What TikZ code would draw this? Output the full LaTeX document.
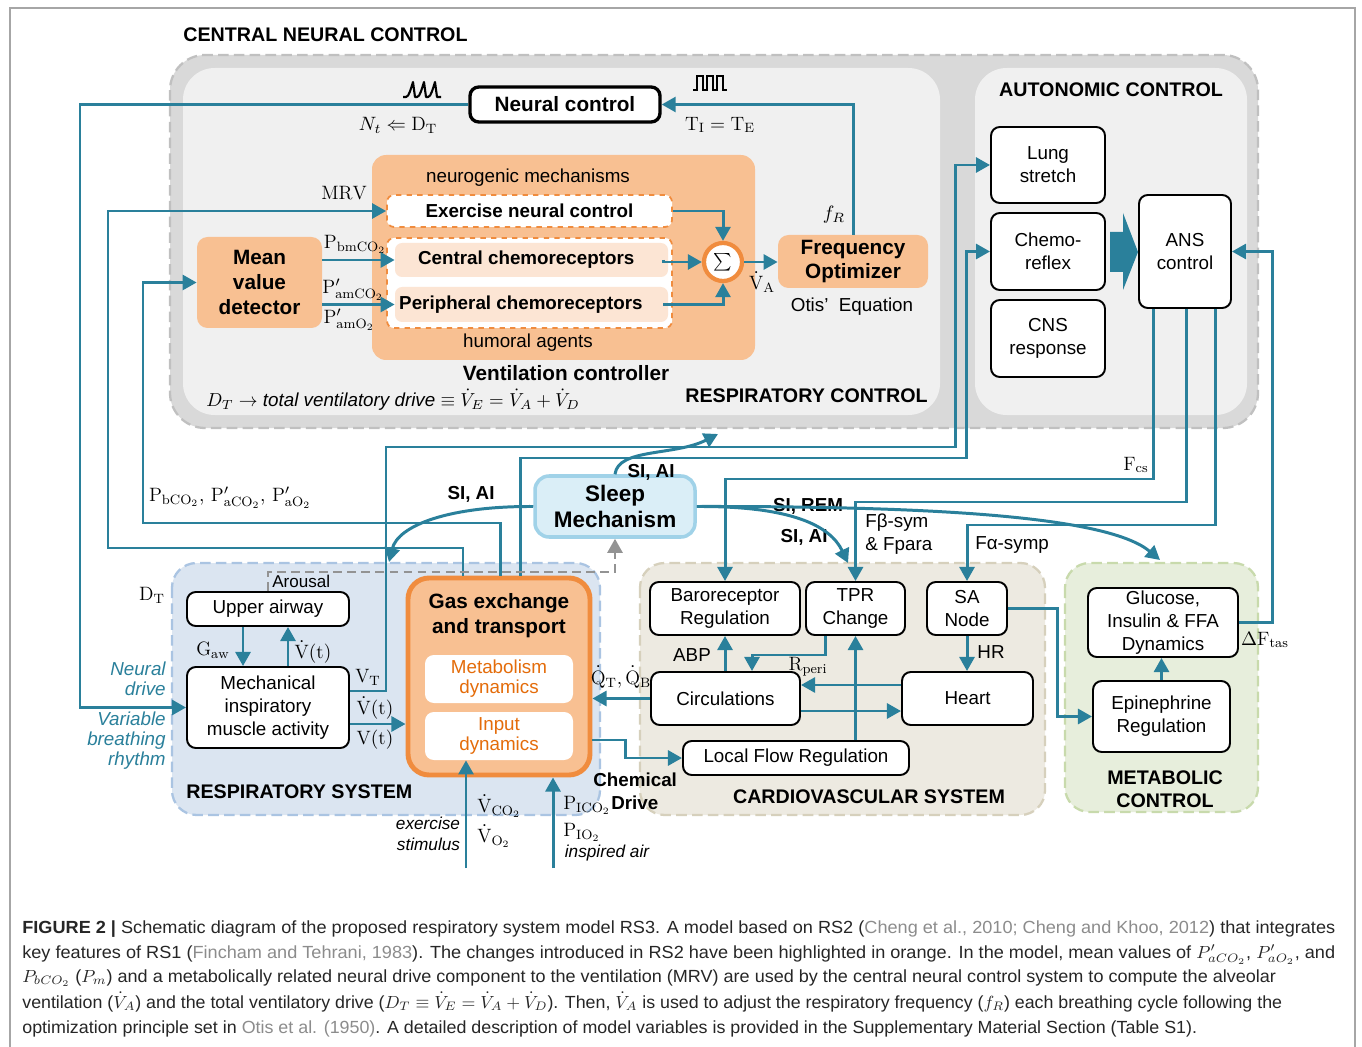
\RequirePackage{fix-cm}
\documentclass[tikz,border=0pt]{standalone}
\usepackage{fontspec}
\newfontfamily\arialf{Liberation Sans}
\usetikzlibrary{arrows.meta,calc}
\definecolor{tealc}{RGB}{42,128,155}
\definecolor{orf}{RGB}{248,192,146}
\definecolor{orb}{RGB}{240,140,62}
\definecolor{orlight}{RGB}{252,229,212}
\definecolor{ortext}{RGB}{228,108,10}
\definecolor{grayout}{RGB}{217,217,217}
\definecolor{graydash}{RGB}{192,192,192}
\definecolor{graypanel}{RGB}{240,240,240}
\definecolor{resf}{RGB}{219,229,241}
\definecolor{resb}{RGB}{170,196,226}
\definecolor{cvf}{RGB}{237,234,225}
\definecolor{cvb}{RGB}{214,208,188}
\definecolor{mcf}{RGB}{231,238,220}
\definecolor{mcb}{RGB}{200,218,172}
\definecolor{slf}{RGB}{218,238,247}
\definecolor{slb}{RGB}{160,210,232}
\definecolor{citec}{RGB}{140,140,140}
\newcommand\fReg{\arialf\fontsize{10.7}{13}\selectfont}
\newcommand\fBs{\arialf\bfseries\fontsize{10.7}{13}\selectfont}
\newcommand\fBig{\arialf\bfseries\fontsize{11.8}{14.2}\selectfont}
\newcommand\fSleep{\arialf\bfseries\fontsize{12.8}{14.8}\selectfont}
\newcommand\fHead{\arialf\bfseries\fontsize{11.2}{13}\selectfont}
\newcommand\fMath{\fontsize{11}{13}\selectfont}
\newcommand\fIt{\arialf\itshape\fontsize{10.7}{11.4}\selectfont}
\newcommand\fSm{\arialf\itshape\fontsize{9.8}{11.9}\selectfont}
\newcommand\fCap{\arialf\fontsize{10}{12}\selectfont}
\tikzset{
  sz/.style 2 args={minimum width={#1*0.02cm}, minimum height={#2*0.02cm}},
  wbox/.style={draw=black, line width=1.1pt, rounded corners=5pt, fill=white, inner sep=0pt, align=center, font=\fReg},
  obox/.style={fill=orf, rounded corners=6pt, inner sep=0pt, align=center, font=\fBig},
  conn/.style={draw=tealc, line width=1.7pt, -{Triangle[length=8pt,width=8.5pt]}},
  lab/.style={inner sep=0pt, font=\fReg},
  mlab/.style={inner sep=0pt, font=\fMath},
  blab/.style={inner sep=0pt, font=\fBs},
  head/.style={inner sep=0pt, font=\fHead},
  region/.style={dash pattern=on 6pt off 3pt, line width=1.3pt, rounded corners=14pt},
  capl/.style={anchor=base west, inner sep=0pt, font=\fCap, text=black!85},
}
\begin{document}
\begin{tikzpicture}[x=0.02cm,y=-0.02cm]
\useasboundingbox (0,0) rectangle (1362,1047);
\fill[white] (0,0) rectangle (1362,1047);
\draw[gray!70, line width=0.8pt] (10,1047) -- (10,8) -- (1355,8) -- (1355,1047);

% ---------- containers ----------
\draw[region, draw=graydash, fill=grayout, rounded corners=20pt] (170,55) rectangle (1258,428);
\fill[graypanel, rounded corners=18pt] (183,68) rectangle (940,415);
\fill[graypanel, rounded corners=18pt] (975,68) rectangle (1247,415);
\draw[region, draw=resb, fill=resf] (172,563) rectangle (600,815);
\draw[region, draw=cvb, fill=cvf] (640,563) rectangle (1045,815);
\draw[region, draw=mcb, fill=mcf] (1065,563) rectangle (1258,812);

% ---------- coordinates ----------
\coordinate (xN) at (80,0);
\coordinate (xA) at (463,0);
\coordinate (xB) at (500,0);
\coordinate (xC) at (520,0);
\coordinate (x1) at (1153,0);
\coordinate (x2) at (1186,0);
\coordinate (x3) at (1215,0);
\coordinate (yF1) at (0,479);
\coordinate (yF2) at (0,502);
\coordinate (yF3) at (0,525);
\coordinate (yVT) at (0,691);
\coordinate (yVd) at (0,724);
\coordinate (xg) at (243,0);
\coordinate (xv) at (288,0);
\coordinate (xt1) at (825,0);
\coordinate (xt2) at (752,0);
\coordinate (yh1) at (0,685);
\coordinate (yh2) at (0,711);
\coordinate (yg) at (0,740);
\coordinate (ya) at (0,572);
\coordinate (xo) at (663,0);
\coordinate (ex0) at (466,868);
\coordinate (in0) at (553,868);

% ---------- respiratory control ----------
\node[head, anchor=west] (tcnc) at (183,35) {CENTRAL NEURAL CONTROL};
\node[wbox, line width=1.9pt, font=\fBig, sz={190}{35}] (neural) at (565,104.5) {Neural control};
\node[fill=orf, rounded corners=8pt, inner sep=0pt, sz={383}{205}] (vent) at (563.5,257.5) {};
\node[lab] (tneuro) at (528,178) {neurogenic mechanisms};
\node[lab] (thum) at (528,343) {humoral agents};
\node[fill=white, draw=orb, dashed, line width=1pt, rounded corners=4pt, inner sep=0pt, font=\fBs, sz={285}{32}] (exer) at (529.5,211) {Exercise neural control};
\node[fill=white, draw=orb, dashed, line width=1pt, rounded corners=4pt, inner sep=0pt, sz={285}{90}] (chcont) at (529.5,283) {};
\node[fill=orlight, rounded corners=4pt, inner sep=0pt, font=\fBs, sz={273}{34}] (central) at (531.5,260) {Central chemoreceptors\hspace*{6pt}};
\node[fill=orlight, rounded corners=4pt, inner sep=0pt, font=\fBs, sz={273}{35}] (periph) at (531.5,304.5) {Peripheral chemoreceptors\hspace*{12pt}};
\node[circle, draw=orb, line width=2.4pt, fill=white, minimum size=0.76cm, inner sep=0pt, font=\fontsize{14}{14}\selectfont] (sum) at (723,262) {$\sum$};
\node[obox, sz={150}{53}] (freq) at (853,261.5) {Frequency\\Optimizer};
\node[obox, sz={125}{91}] (mean) at (259.5,282.5) {Mean\\value\\detector};
\node[lab] (totis) at (852,307) {Otis’\ \ Equation};
\node[font=\fBig, inner sep=0pt] (tvc) at (566,373) {Ventilation controller};
\node[lab, anchor=west] (tdrive) at (206,400) {$D_T\rightarrow$ \textit{total ventilatory drive} $\equiv \dot V_E = \dot V_A+\dot V_D$};
\node[head, anchor=east] (trc) at (928,396) {RESPIRATORY CONTROL};

% waveforms
\draw[line width=1.2pt, line join=round] (403,97) -- (406,97) .. controls (409,97) and (411,88) .. (413,82) -- (415,97) -- (417,97) .. controls (420,97) and (422,88) .. (424,82) -- (426,97) -- (428,97) .. controls (431,97) and (433,88) .. (435,82) -- (437,97) -- (441,97);
\draw[line width=1.2pt] (693,90) -- (697,90) -- (697,76) -- (703,76) -- (703,90) -- (707,90) -- (707,76) -- (713,76) -- (713,90) -- (717,90) -- (717,76) -- (723,76) -- (723,90) -- (727,90);

\node[mlab] (lnt) at (398,125) {$N_t \Leftarrow \mathrm{D_T}$};
\node[mlab] (lti) at (720,125) {$\mathrm{T_I = T_E}$};
\node[mlab] (lfr) at (834,215) {$f_R$};
\node[mlab] (lva) at (762,282) {$\dot{\mathrm V}_{\mathrm A}$};
\node[mlab] (lmrv) at (344,193) {$\mathrm{MRV}$};
\node[mlab] (lpbm) at (355,244) {$\mathrm{P_{bmCO_2}}$};
\node[mlab] (lpam) at (353,290) {$\mathrm{P'_{amCO_2}}$};
\node[mlab] (lpao) at (349,320) {$\mathrm{P'_{amO_2}}$};

% ---------- autonomic control ----------
\node[head] (tauto) at (1111,90) {AUTONOMIC CONTROL};
\node[wbox, sz={114}{76}] (lung) at (1048,165) {Lung\\stretch};
\node[wbox, sz={114}{77}] (chemo) at (1048,251.5) {Chemo-\\reflex};
\node[wbox, sz={114}{77}] (cns) at (1048,338.5) {CNS\\response};
\node[wbox, sz={92}{113}] (ans) at (1185,251.5) {ANS\\control};
\fill[tealc] (1110,232) -- (1123,232) -- (1123,213) -- (1138,252) -- (1123,290) -- (1123,272) -- (1110,272) -- cycle;

% ---------- respiratory system ----------
\node[wbox, sz={162}{34}] (upper) at (268,609) {Upper airway};
\node[wbox, sz={162}{81}] (mech) at (268,707.5) {Mechanical\\inspiratory\\muscle activity};
\node[fill=orf, draw=orb, line width=2.8pt, rounded corners=12pt, inner sep=0pt, sz={182}{197}] (gas) at (499,676.5) {};
\node[font=\fBig, align=center, inner sep=0pt] (gastitle) at (499,616) {Gas exchange\\and transport};
\node[fill=white, rounded corners=5pt, inner sep=0pt, align=center, text=ortext, font=\arialf\fontsize{10.7}{11.3}\selectfont, sz={148}{48}] (metab) at (499,679) {Metabolism\\dynamics};
\node[fill=white, rounded corners=5pt, inner sep=0pt, align=center, text=ortext, font=\arialf\fontsize{10.7}{11.3}\selectfont, sz={148}{48}] (input) at (499,736) {Input\\dynamics};
\node[head, anchor=west] (trs) at (186,792) {RESPIRATORY SYSTEM};
\node[inner sep=0pt, font=\arialf\fontsize{9.7}{11}\selectfont, anchor=west] (tarous) at (272,581) {Arousal};
\node[font=\fIt, text=tealc, align=right, anchor=east, inner sep=0pt] (tnd) at (166,679) {Neural\\drive};
\node[font=\fIt, text=tealc, align=right, anchor=east, inner sep=0pt] (tvb) at (166,741) {Variable\\breathing\\rhythm};
\node[mlab] (ldt) at (152,595) {$\mathrm{D_T}$};
\node[mlab] (lgaw) at (213,650) {$\mathrm{G_{aw}}$};
\node[mlab] (lvt1) at (313,652) {$\dot{\mathrm V}(\mathrm t)$};
\node[mlab] (lvT) at (368,677) {$\mathrm{V_T}$};
\node[mlab] (lvt2) at (375,708) {$\dot{\mathrm V}(\mathrm t)$};
\node[mlab] (lvt3) at (375,740) {$\mathrm V(\mathrm t)$};
\node[mlab] (lqt) at (621,677) {$\dot{\mathrm Q}_{\mathrm T}, \dot{\mathrm Q}_{\mathrm B}$};
\node[mlab, anchor=west] (lvco) at (477,806) {$\dot{\mathrm V}_{\mathrm{CO_2}}$};
\node[mlab, anchor=west] (lvo) at (477,836) {$\dot{\mathrm V}_{\mathrm{O_2}}$};
\node[font=\fSm, align=right, inner sep=0pt] (texs) at (428,834) {exercise\\stimulus};
\node[mlab, anchor=west] (lpico) at (563,805) {$\mathrm{P_{ICO_2}}$};
\node[mlab, anchor=west] (lpio) at (563,832) {$\mathrm{P_{IO_2}}$};
\node[font=\fSm, inner sep=0pt] (tinsp) at (607,853) {inspired air};
\node[blab, anchor=west] (tchem) at (593,780) {Chemical};
\node[blab, anchor=west] (tdrv) at (611,803) {Drive};
\node[mlab] (lpb) at (230,498) {$\mathrm{P_{bCO_2}},\,\mathrm{P'_{aCO_2}},\,\mathrm{P'_{aO_2}}$};

% ---------- sleep ----------
\node[fill=slf, draw=slb, line width=2pt, rounded corners=8pt, inner sep=0pt, align=center, font=\fSleep, sz={160}{61}] (sleep) at (615,506.5) {Sleep\\Mechanism};
\node[blab] (tsi1) at (471,494) {SI, AI};
\node[blab] (tsi2) at (651,472) {SI, AI};
\node[blab] (tsi3) at (808,506) {SI, REM};
\node[blab] (tsi4) at (804,537) {SI, AI};

% ---------- cardiovascular ----------
\node[wbox, sz={150}{53}] (baro) at (725,608.5) {Baroreceptor\\Regulation};
\node[wbox, sz={99}{53}] (tpr) at (855.5,608.5) {TPR\\Change};
\node[wbox, sz={80}{53}] (sa) at (967,608.5) {SA\\Node};
\node[wbox, sz={149}{53}] (circ) at (725.5,698.5) {Circulations};
\node[wbox, sz={131}{53}] (heart) at (967.5,698.5) {Heart};
\node[wbox, sz={226}{34}] (local) at (796,758) {Local Flow Regulation};
\node[head] (tcv) at (869,797) {CARDIOVASCULAR SYSTEM};
\node[lab] (tabp) at (692,655) {ABP};
\node[lab] (thr) at (991,652) {HR};
\node[mlab] (lrp) at (808,667) {$\mathrm{R_{peri}}$};
\node[mlab] (lfcs) at (1136,465) {$\mathrm{F_{cs}}$};
\node[lab, anchor=west, align=left] (tfb) at (865,534) {Fβ-sym\\\& Fpara};
\node[lab, anchor=west] (tfa) at (975,545) {Fα-symp};

% ---------- metabolic ----------
\node[wbox, sz={150}{69}] (gluc) at (1163,622.5) {Glucose,\\Insulin \& FFA\\Dynamics};
\node[wbox, sz={137}{71}] (epi) at (1161.5,716.5) {Epinephrine\\Regulation};
\node[head, align=center] (tmc) at (1165,789) {METABOLIC\\CONTROL};
\node[mlab] (lft) at (1265,640) {$\Delta\mathrm{F_{tas}}$};

% ---------- connectors ----------
\draw[conn] (neural.west) -| (xN |- mech.west) -- (mech.west);
\draw[conn] (freq.north) |- (neural.east);
\draw[conn] (gas.north -| xA) |- (108,548) |- (exer.west);
\draw[conn] (gas.north -| xB) |- (143,523) |- (mean.west);
\draw[conn] (gas.north -| xC) |- (966,458) |- (chemo.west);
\draw[conn] (mech.east |- yVT) -| (386,447) -| (955,300) |- (lung.west);
\draw[conn] (mech.east |- yVd) -- (gas.west |- yVd);
\draw[conn] (upper.south -| xg) -- (mech.north -| xg);
\draw[conn] (mech.north -| xv) -- (upper.south -| xv);
\draw[conn] (exer.east) -| (sum.north);
\draw[conn] (central.east -| xo) |- (sum.west);
\draw[conn] (periph.east -| xo) -| (sum.south);
\draw[conn] (sum.east) -- (freq.west |- sum.east);
\draw[conn] (mean.east |- central.west) -- (central.west);
\draw[conn] (mean.east |- periph.west) -- (periph.west);
\draw[conn] (ans.south -| x1) |- (baro.north |- yF1) -- (baro.north);
\draw[conn] (ans.south -| x2) |- (tpr.north |- yF2) -- (tpr.north);
\draw[conn] (ans.south -| x3) |- (sa.north |- yF3) -- (sa.north);
\draw[conn] (gluc.east) -| (1272,400) |- (ans.east);
\draw[conn] (circ.north -| baro.south) -- (baro.south);
\draw[conn] (tpr.south -| xt1) |- (752,655) -- (circ.north -| xt2);
\draw[conn] (tpr.south |- local.north) -- (tpr.south);
\draw[conn] (sa.south) -- (sa.south |- heart.north);
\draw[conn] (heart.west |- yh1) -- (circ.east |- yh1);
\draw[conn] (circ.east |- yh2) -- (heart.west |- yh2);
\draw[conn] (circ.west) -- (gas.east |- circ.west);
\draw[conn] (gas.east |- yg) -| (625,750) |- (local.west);
\draw[conn] (sa.east) -| (1057,700) |- (epi.west);
\draw[conn] (epi.north) -- (epi.north |- gluc.south);
\draw[conn] (ex0) -- (input.south -| ex0);
\draw[conn] (in0) -- (gas.south -| in0);
\draw[draw=gray!85, line width=1.5pt, dash pattern=on 5pt off 3pt, -{Triangle[length=8pt,width=8.5pt]}] (upper.north) |- (sleep.south |- ya) -- (sleep.south);
\draw[conn] (sleep.west) .. controls (450,506) and (398,525) .. (389,562);
\draw[conn] (sleep.north) .. controls (618,448) and (675,456) .. (718,434);
\draw[conn] (sleep.east) .. controls (790,506) and (830,525) .. (848,563);
\draw[conn] (sleep.east) .. controls (950,506) and (1110,518) .. (1160,560);

% ---------- caption ----------
\node[capl] (cap1) at (22,933) {\resizebox{26.26cm}{\height}{\textbf{FIGURE 2 |} Schematic diagram of the proposed respiratory system model RS3. A model based on RS2 ({\color{citec}Cheng et al., 2010; Cheng and Khoo, 2012}) that integrates}};
\node[capl] (cap2) at (22,958) {\resizebox{26.26cm}{\height}{key features of RS1 ({\color{citec}Fincham and Tehrani, 1983}). The changes introduced in RS2 have been highlighted in orange. In the model, mean values of $P'_{aCO_2}$, $P'_{aO_2}$, and}};
\node[capl] (cap3) at (22,982) {\resizebox{25.08cm}{\height}{$P_{bCO_2}$ ($P_m$) and a metabolically related neural drive component to the ventilation (MRV) are used by the central neural control system to compute the alveolar}};
\node[capl] (cap4) at (22,1008) {\resizebox{25.2cm}{\height}{ventilation ($\dot V_A$) and the total ventilatory drive ($D_T\equiv\dot V_E=\dot V_A+\dot V_D$). Then, $\dot V_A$ is used to adjust the respiratory frequency ($f_R$) each breathing cycle following the}};
\node[capl] (cap5) at (22,1033) {\resizebox{23.5cm}{\height}{optimization principle set in {\color{citec}Otis et al. (1950)}. A detailed description of model variables is provided in the Supplementary Material Section (Table S1).}};
\end{tikzpicture}
\end{document}
